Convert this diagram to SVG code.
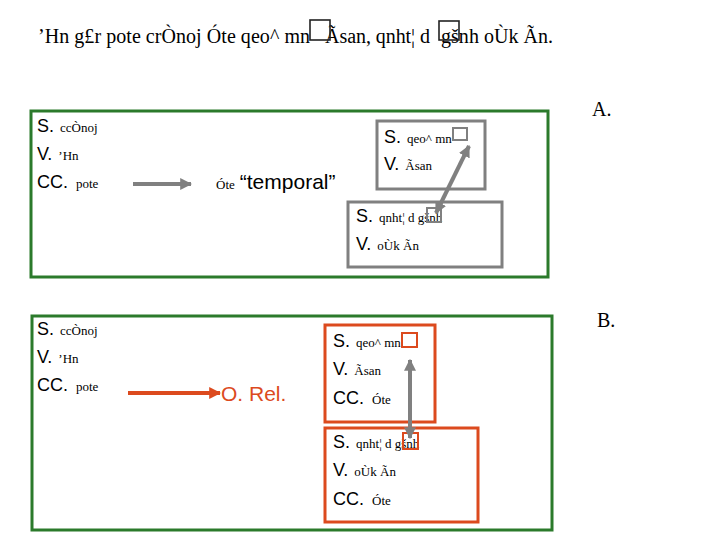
<svg xmlns="http://www.w3.org/2000/svg" width="720" height="540" viewBox="0 0 720 540">
<style>
.ttl{font-family:"Liberation Serif",serif;font-size:20px;fill:#000}
.lab{font-family:"Liberation Sans",Arial,sans-serif;font-size:18px;fill:#000}
.gr{font-family:"Liberation Serif",serif;font-size:13px;fill:#000}
.big{font-family:"Liberation Sans",Arial,sans-serif;font-size:21px}
.green{fill:none;stroke:#2b7a2b;stroke-width:3}
.gbox{fill:none;stroke:#808080;stroke-width:3}
.obox{fill:none;stroke:#dc4a1e;stroke-width:3}
.tbox{fill:none;stroke:#222;stroke-width:1.6}
</style>
<defs>
<marker id="ag" viewBox="0 0 10 10" refX="9" refY="5" markerWidth="3" markerHeight="3" orient="auto-start-reverse"><path d="M0,0L10,5L0,10z" fill="#808080"/></marker>
<marker id="ao" viewBox="0 0 10 10" refX="9" refY="5" markerWidth="3" markerHeight="3" orient="auto"><path d="M0,0L10,5L0,10z" fill="#dc4a1e"/></marker>
</defs>
<g id="title">
<text class="ttl" y="43"><tspan x="38" textLength="272" lengthAdjust="spacing">’Hn g£r pote crÒnoj Óte qeo^ mn</tspan><tspan x="325" textLength="105" lengthAdjust="spacing">Ãsan, qnht¦ d</tspan><tspan x="441" textLength="112" lengthAdjust="spacing">gšnh oÙk Ãn.</tspan></text>
<rect class="tbox" x="310" y="20" width="20" height="20"/>
<rect class="tbox" x="439" y="21" width="20" height="19"/>
</g>
<g id="labelA"><text class="ttl" x="592" y="116">A.</text></g>
<g id="labelB"><text class="ttl" x="597" y="327">B.</text></g>
<g id="boxA">
<rect class="green" x="31" y="111" width="517" height="166"/>
<text x="37" y="132"><tspan class="lab">S.</tspan><tspan class="gr" dx="6">ccÒnoj</tspan></text>
<text x="37" y="160"><tspan class="lab">V.</tspan><tspan class="gr" dx="6">’Hn</tspan></text>
<text x="37" y="188"><tspan class="lab">CC.</tspan><tspan class="gr" dx="8">pote</tspan></text>
<text x="216" y="189"><tspan class="gr">Óte</tspan><tspan class="big" dx="5" fill="#000">“temporal”</tspan></text>
</g>
<g id="A-subject">
<rect class="gbox" x="377" y="121" width="108" height="68"/>
<text x="384" y="143"><tspan class="lab">S.</tspan><tspan class="gr" dx="6">qeo^ </tspan><tspan class="gr" fill="#808080">mn</tspan></text>
<rect x="453" y="128" width="14" height="12" fill="none" stroke="#808080" stroke-width="2"/>
<text x="384" y="170"><tspan class="lab">V.</tspan><tspan class="gr" dx="6">Ãsan</tspan></text>
</g>
<g id="A-relative">
<rect class="gbox" x="348" y="202" width="154" height="65"/>
<text x="356" y="222"><tspan class="lab">S.</tspan><tspan class="gr" dx="6">qnht¦ </tspan><tspan class="gr" fill="#808080">d </tspan><tspan class="gr">gšnh</tspan></text>
<rect x="427" y="208" width="14" height="14" fill="none" stroke="#808080" stroke-width="2"/>
<text x="356" y="250"><tspan class="lab">V.</tspan><tspan class="gr" dx="6">oÙk Ãn</tspan></text>
</g>
<g id="boxB">
<rect class="green" x="32" y="316" width="520" height="214"/>
<text x="37" y="335"><tspan class="lab">S.</tspan><tspan class="gr" dx="6">ccÒnoj</tspan></text>
<text x="37" y="363"><tspan class="lab">V.</tspan><tspan class="gr" dx="6">’Hn</tspan></text>
<text x="37" y="391"><tspan class="lab">CC.</tspan><tspan class="gr" dx="8">pote</tspan></text>
<text class="big" x="221" y="401" fill="#dc4a1e">O. Rel.</text>
</g>
<g id="B-subject">
<rect class="obox" x="325" y="325" width="110" height="97"/>
<text x="333" y="347"><tspan class="lab">S.</tspan><tspan class="gr" dx="6">qeo^ </tspan><tspan class="gr" fill="#dc4a1e">mn</tspan></text>
<rect x="402" y="333" width="15" height="14" fill="none" stroke="#dc4a1e" stroke-width="2"/>
<text x="333" y="375"><tspan class="lab">V.</tspan><tspan class="gr" dx="6">Ãsan</tspan></text>
<text x="333" y="404"><tspan class="lab">CC.</tspan><tspan class="gr" dx="8">Óte</tspan></text>
</g>
<g id="B-relative">
<rect class="obox" x="325" y="428" width="153" height="94"/>
<text x="333" y="448"><tspan class="lab">S.</tspan><tspan class="gr" dx="6">qnht¦ </tspan><tspan class="gr" fill="#dc4a1e">d </tspan><tspan class="gr">gšnh</tspan></text>
<rect x="403" y="433" width="15" height="16" fill="none" stroke="#dc4a1e" stroke-width="2"/>
<text x="333" y="476"><tspan class="lab">V.</tspan><tspan class="gr" dx="6">oÙk Ãn</tspan></text>
<text x="333" y="505"><tspan class="lab">CC.</tspan><tspan class="gr" dx="8">Óte</tspan></text>
</g>
<g id="connectors">
<line x1="133" y1="184" x2="191" y2="184" stroke="#808080" stroke-width="4" marker-end="url(#ag)"/>
<line x1="436" y1="213" x2="469" y2="146" stroke="#808080" stroke-width="4" marker-start="url(#ag)" marker-end="url(#ag)"/>
<line x1="128" y1="393" x2="220" y2="393" stroke="#dc4a1e" stroke-width="4" marker-end="url(#ao)"/>
<line x1="410" y1="438" x2="410" y2="360" stroke="#808080" stroke-width="4" marker-start="url(#ag)" marker-end="url(#ag)"/>
</g>
</svg>
